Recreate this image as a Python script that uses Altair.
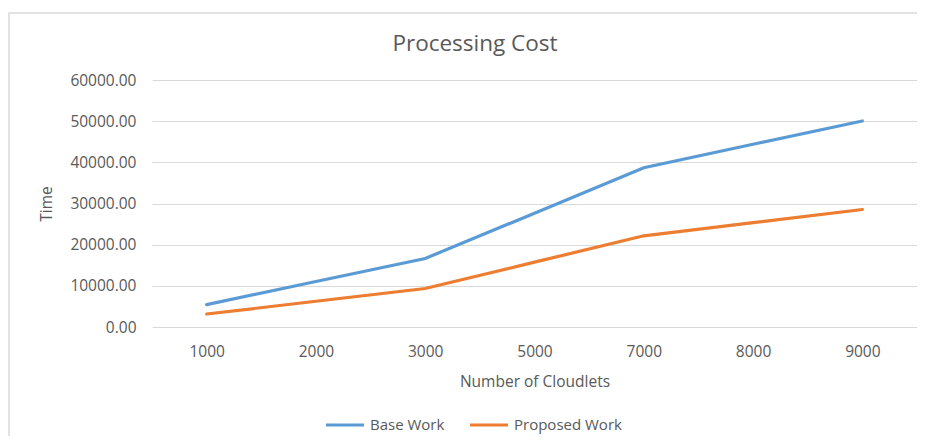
import altair as alt
import pandas as pd

cloudlets = ["1000", "2000", "3000", "5000", "7000", "8000", "9000"]
base_work = [5450, 11050, 16650, 27650, 38700, 44400, 50050]
proposed_work = [3150, 6250, 9350, 15750, 22150, 25350, 28550]
series_names = ["Base Work", "Proposed Work"]
series_colors = ["#5B9BD5", "#ED7D31"]
chart_title = "Processing Cost"

rows = []
for c, b, p in zip(cloudlets, base_work, proposed_work):
    rows.append({"Cloudlets": c, "Series": series_names[0], "Time": b})
    rows.append({"Cloudlets": c, "Series": series_names[1], "Time": p})
df = pd.DataFrame(rows)

FONT = "Open Sans"
GREY = "#595959"

lines = alt.Chart(df).mark_line(strokeWidth=3.2, strokeCap="round").encode(
    x=alt.X("Cloudlets:O", sort=cloudlets,
            scale=alt.Scale(type="point", padding=0.5),
            axis=alt.Axis(title="Number of Cloudlets", labelAngle=0, ticks=False,
                          domain=False, grid=False, labelPadding=17,
                          titlePadding=15)),
    y=alt.Y("Time:Q", scale=alt.Scale(domain=[0, 60000], nice=False),
            axis=alt.Axis(title="Time", values=[0, 10000, 20000, 30000, 40000, 50000, 60000],
                          format=".2f", ticks=False, domain=False, labelPadding=16,
                          titlePadding=15, gridColor="#D9D9D9", gridWidth=1)),
    color=alt.Color("Series:N", sort=series_names,
                    scale=alt.Scale(domain=series_names, range=series_colors),
                    legend=alt.Legend(title=None, orient="none", direction="horizontal",
                                      legendX=172, legendY=324, symbolType="stroke",
                                      symbolSize=1444, symbolStrokeWidth=3.2,
                                      labelOffset=4, columnPadding=18,
                                      labelFontSize=15, labelColor=GREY, labelFont=FONT)),
)

border = alt.Chart(pd.DataFrame({"b": [0]})).mark_rect(
    fill=None, stroke="#D9D9D9", strokeWidth=1.5
).encode(
    x=alt.value(-143), x2=alt.value(780), y=alt.value(-67), y2=alt.value(360)
)

title = alt.Chart(pd.DataFrame({"t": [chart_title]})).mark_text(
    font=FONT, fontSize=22.5, color=GREY, align="center", baseline="middle"
).encode(
    text="t:N", x=alt.value(323), y=alt.value(-36)
)

chart = alt.layer(border, lines, title).properties(
    width=765, height=247,
    padding={"left": 144, "top": 72, "right": 0, "bottom": 109},
    autosize=alt.AutoSizeParams(type="none"),
).configure_view(stroke=None).configure_axis(
    labelFont=FONT, titleFont=FONT, labelFontSize=15.5, titleFontSize=15.5,
    labelColor=GREY, titleColor=GREY, titleFontWeight="normal"
)

chart.save("out.html", embed_options={"renderer": "svg", "actions": False})
